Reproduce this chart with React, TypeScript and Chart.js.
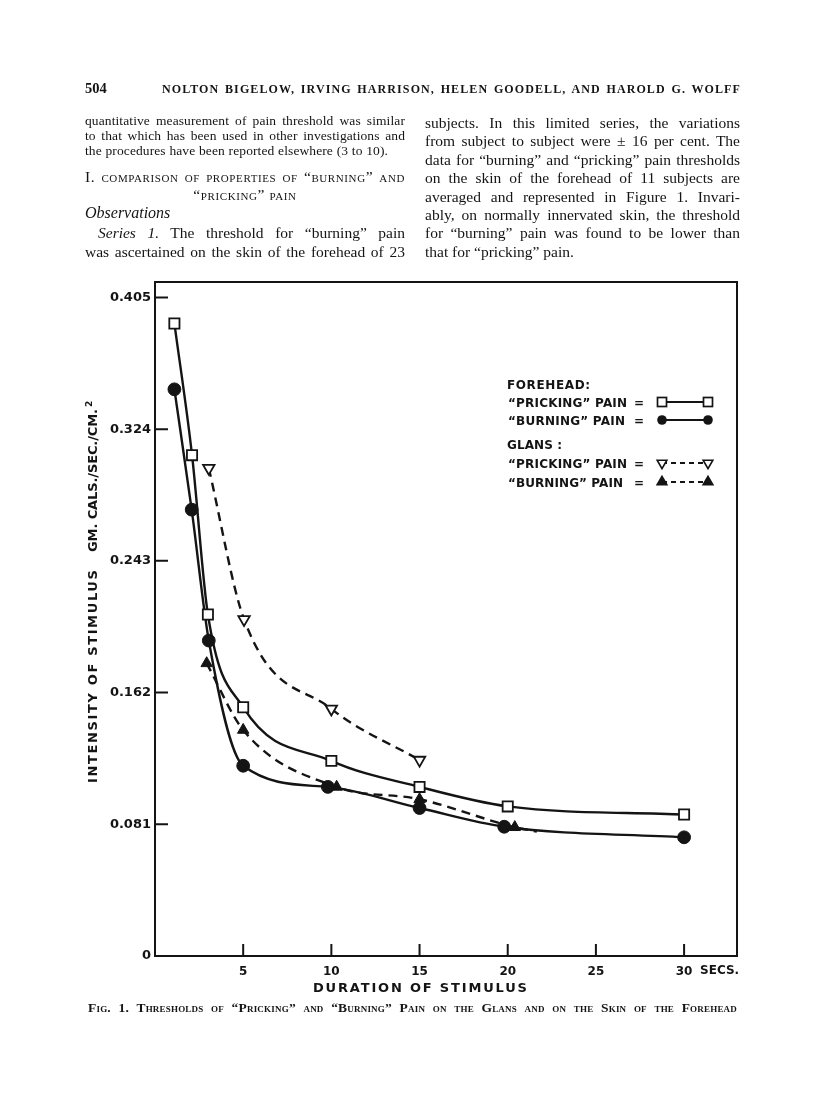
import React, { useEffect, useRef } from "react";
import { Chart, registerables } from "chart.js";

Chart.register(...registerables);

// ---------------- data ----------------
const xTickValues = [5, 10, 15, 20, 25, 30];
const xTickLabels = ["5", "10", "15", "20", "25", "30"];
const xUnitLabel = "SECS.";
const yTickValues = [0, 0.081, 0.162, 0.243, 0.324, 0.405];
const yTickLabels = ["0", "0.081", "0.162", "0.243", "0.324", "0.405"];
const xTitle = "DURATION OF STIMULUS";
const yTitleMain = "INTENSITY OF STIMULUS";
const yTitleUnit = "GM. CALS./SEC./CM.";
const yTitleSup = "2";
const legendGroups = ["FOREHEAD:", "GLANS :"];

// Forehead, "pricking" pain (open squares, solid)
const foreheadPrickingSec = [1.1, 2.1, 3.0, 5, 10, 15, 20, 30];
const foreheadPrickingVal = [0.389, 0.308, 0.21, 0.153, 0.12, 0.104, 0.092, 0.087];
// Forehead, "burning" pain (filled circles, solid)
const foreheadBurningSec = [1.1, 2.08, 3.05, 5, 9.8, 15, 19.8, 30];
const foreheadBurningVal = [0.3485, 0.2745, 0.194, 0.117, 0.104, 0.091, 0.0795, 0.073];
// Glans, "pricking" pain (open down-triangles, dashed)
const glansPrickingSec = [3.05, 5.05, 10, 15];
const glansPrickingVal = [0.3, 0.207, 0.152, 0.1205];
// Glans, "burning" pain (filled up-triangles, dashed); last point = end of the dashed line
const glansBurningSec = [2.93, 5, 10.3, 15, 20.4, 21.65];
const glansBurningVal = [0.18, 0.139, 0.104, 0.0964, 0.0792, 0.0765];
const glansBurningMarked = [true, true, true, true, true, false];

const seriesLabels = [
  "\u201CPRICKING\u201D PAIN",
  "\u201CBURNING\u201D PAIN",
  "\u201CPRICKING\u201D PAIN",
  "\u201CBURNING\u201D PAIN",
];

// ---------------- styling ----------------
const INK = "#141414";
const PAPER = "#ffffff";
const SANS = '"DejaVu Sans", sans-serif';
const SERIF = '"Liberation Serif", "Times New Roman", serif';

const pts = (xs: number[], ys: number[]) => xs.map((x, i) => ({ x, y: ys[i] }));

function fitText(ctx: CanvasRenderingContext2D, text: string, x: number, y: number, w: number) {
  (ctx as any).letterSpacing = "0px";
  const n = Array.from(text).length;
  const nat = ctx.measureText(text).width;
  const ls = n > 1 ? (w - nat) / (n - 1) : 0;
  (ctx as any).letterSpacing = ls.toFixed(2) + "px";
  ctx.fillText(text, x, y);
  (ctx as any).letterSpacing = "0px";
}

function triangle(ctx: CanvasRenderingContext2D, cx: number, cy: number, r: number, down: boolean, filled: boolean) {
  const s = down ? -1 : 1;
  ctx.beginPath();
  ctx.moveTo(cx, cy - s * r);
  ctx.lineTo(cx + r * 0.866, cy + s * r * 0.5);
  ctx.lineTo(cx - r * 0.866, cy + s * r * 0.5);
  ctx.closePath();
  ctx.fillStyle = filled ? INK : PAPER;
  ctx.fill();
  ctx.lineWidth = 1.6;
  ctx.strokeStyle = INK;
  ctx.stroke();
}

const pagePlugin = {
  id: "pageDecor",
  afterDraw(chart: any) {
    const { ctx, chartArea: a, scales } = chart;
    const xs = scales.x;
    const ys = scales.y;
    ctx.save();
    ctx.strokeStyle = INK;
    ctx.fillStyle = INK;
    ctx.lineWidth = 2;
    ctx.setLineDash([]);
    // frame
    ctx.strokeRect(a.left, a.top, a.right - a.left, a.bottom - a.top);
    // inward tick marks
    ctx.beginPath();
    xs.ticks.forEach((t: any) => {
      const px = xs.getPixelForValue(t.value);
      ctx.moveTo(px, a.bottom);
      ctx.lineTo(px, a.bottom - 12);
    });
    ys.ticks.forEach((t: any) => {
      if (t.value === 0) return;
      const py = ys.getPixelForValue(t.value);
      ctx.moveTo(a.left, py);
      ctx.lineTo(a.left + 13, py);
    });
    ctx.stroke();

    // unit after last x tick
    ctx.font = "bold 12px " + SANS;
    ctx.textAlign = "left";
    ctx.textBaseline = "alphabetic";
    ctx.fillText(xUnitLabel, xs.getPixelForValue(30) + 16, 974);

    // x title
    ctx.font = "bold 13px " + SANS;
    fitText(ctx, xTitle, 313, 992, 214);

    // y title (rotated)
    ctx.save();
    ctx.translate(97, 783);
    ctx.rotate(-Math.PI / 2);
    ctx.font = "bold 13px " + SANS;
    fitText(ctx, yTitleMain, 0, 0, 213);
    fitText(ctx, yTitleUnit, 231, 0, 143);
    ctx.font = "bold 9px " + SANS;
    ctx.fillText(yTitleSup, 376, -5);
    ctx.restore();

    // legend
    const ds = chart.data.datasets;
    ctx.font = "bold 12px " + SANS;
    fitText(ctx, legendGroups[0], 507, 389, 83);
    fitText(ctx, legendGroups[1], 507, 449, 55);
    const rows = [
      { cy: 402, base: 407, w: 119 },
      { cy: 420, base: 425, w: 117 },
      { cy: 463, base: 468, w: 119 },
      { cy: 482, base: 486.5, w: 115 },
    ];
    rows.forEach((r, i) => {
      ctx.font = "bold 12px " + SANS;
      ctx.fillStyle = INK;
      fitText(ctx, ds[i].label, 508, r.base, r.w);
      ctx.fillText("=", 634, r.base);
      const x1 = 662;
      const x2 = 708;
      ctx.lineWidth = 2;
      ctx.strokeStyle = INK;
      ctx.setLineDash(i < 2 ? [] : [5, 4]);
      ctx.beginPath();
      ctx.moveTo(x1, r.cy);
      ctx.lineTo(x2, r.cy);
      ctx.stroke();
      ctx.setLineDash([]);
      [x1, x2].forEach((cx) => {
        if (i === 0) {
          ctx.fillStyle = PAPER;
          ctx.fillRect(cx - 4.5, r.cy - 4.5, 9, 9);
          ctx.lineWidth = 1.7;
          ctx.strokeRect(cx - 4.5, r.cy - 4.5, 9, 9);
        } else if (i === 1) {
          ctx.fillStyle = INK;
          ctx.beginPath();
          ctx.arc(cx, r.cy, 4.8, 0, Math.PI * 2);
          ctx.fill();
        } else {
          triangle(ctx, cx, r.cy, 5.6, i === 2, i === 3);
        }
      });
    });
    ctx.restore();
  },
};

// ---------------- page text ----------------
function TL(props: any) {
  const { x, base, w, size, children, align = "left", italic, bold, caps, spacing, family } = props;
  const style: React.CSSProperties = {
    position: "absolute",
    left: x,
    top: base - 0.8375 * size,
    width: w,
    fontFamily: family || SERIF,
    fontSize: size,
    lineHeight: size + "px",
    whiteSpace: "nowrap",
    color: INK,
    textAlign: align as any,
    textAlignLast: align as any,
    fontStyle: italic ? "italic" : "normal",
    fontWeight: bold ? "bold" : "normal",
    fontVariant: caps ? "small-caps" : "normal",
    letterSpacing: spacing ?? "normal",
  };
  return <div style={style}>{children}</div>;
}

const rightColumn = [
  "subjects.  In this limited series, the variations",
  "from subject to subject were \u00B1 16 per cent.  The",
  "data for \u201Cburning\u201D and \u201Cpricking\u201D pain thresholds",
  "on the skin of the forehead of 11 subjects are",
  "averaged and represented in Figure 1.  Invari-",
  "ably, on normally innervated skin, the threshold",
  "for \u201Cburning\u201D pain was found to be lower than",
  "that for \u201Cpricking\u201D pain.",
];

const lineStyle = {
  borderColor: INK,
  borderWidth: 2.4,
  cubicInterpolationMode: "monotone",
};

export default function App() {
  const ref = useRef<HTMLCanvasElement>(null);

  useEffect(() => {
    const canvas = ref.current;
    if (!canvas) return;
    const chart = new Chart(canvas, {
      type: "line",
      data: {
        datasets: [
          {
            ...lineStyle,
            label: seriesLabels[0],
            data: pts(foreheadPrickingSec, foreheadPrickingVal),
            pointStyle: "rect",
            pointRadius: 7.2,
            pointBackgroundColor: PAPER,
            pointBorderColor: INK,
            pointBorderWidth: 1.8,
          },
          {
            ...lineStyle,
            label: seriesLabels[1],
            data: pts(foreheadBurningSec, foreheadBurningVal),
            pointStyle: "circle",
            pointRadius: 6.4,
            pointBackgroundColor: INK,
            pointBorderColor: INK,
            pointBorderWidth: 1,
          },
          {
            ...lineStyle,
            label: seriesLabels[2],
            data: pts(glansPrickingSec, glansPrickingVal),
            borderDash: [9, 6],
            pointStyle: "triangle",
            pointRotation: 180,
            pointRadius: 6.6,
            pointBackgroundColor: PAPER,
            pointBorderColor: INK,
            pointBorderWidth: 1.8,
          },
          {
            ...lineStyle,
            label: seriesLabels[3],
            data: pts(glansBurningSec, glansBurningVal),
            borderDash: [9, 6],
            pointStyle: "triangle",
            pointRadius: glansBurningMarked.map((m) => (m ? 6.6 : 0)),
            pointBackgroundColor: INK,
            pointBorderColor: INK,
            pointBorderWidth: 1,
          },
        ],
      } as any,
      options: {
        responsive: false,
        animation: false,
        events: [],
        layout: { padding: { left: 0, top: 282, right: 79, bottom: 119 } },
        plugins: { legend: { display: false }, tooltip: { enabled: false } },
        scales: {
          x: {
            type: "linear",
            min: 0,
            max: 33,
            afterFit: (s: any) => {
              s.height = 30;
            },
            afterBuildTicks: (s: any) => {
              s.ticks = xTickValues.map((v) => ({ value: v }));
            },
            grid: { display: false, drawTicks: false },
            border: { display: false },
            ticks: {
              color: INK,
              padding: 9,
              maxRotation: 0,
              autoSkip: false,
              font: { family: SANS, size: 12, weight: "bold" },
              callback: (_v: any, i: number) => xTickLabels[i],
            },
          },
          y: {
            type: "linear",
            min: 0,
            max: 0.4145,
            afterFit: (s: any) => {
              s.width = 155;
            },
            afterBuildTicks: (s: any) => {
              s.ticks = yTickValues.map((v) => ({ value: v }));
            },
            grid: { display: false, drawTicks: false },
            border: { display: false },
            ticks: {
              color: INK,
              padding: 4,
              autoSkip: false,
              font: { family: SANS, size: 13, weight: "bold" },
              callback: (_v: any, i: number) => yTickLabels[i],
            },
          },
        },
      } as any,
      plugins: [pagePlugin],
    });
    return () => chart.destroy();
  }, []);

  return (
    <div
      style={{
        position: "absolute",
        left: 0,
        top: 0,
        width: 816,
        height: 1105,
        background: PAPER,
        overflow: "hidden",
      }}
    >
      <canvas
        ref={ref}
        width={816}
        height={1105}
        style={{ position: "absolute", left: 0, top: 0, width: 816, height: 1105 }}
      />
      {/* running head */}
      <TL x={85} base={93} size={14.5} bold>
        504
      </TL>
      <TL x={162} base={93} w={579} size={12} bold align="justify" spacing="1.1px">
        NOLTON BIGELOW, IRVING HARRISON, HELEN GOODELL, AND HAROLD G. WOLFF
      </TL>

      {/* left column */}
      <TL x={85} base={125} w={320} size={13.5} align="justify" spacing="0.1px">
        quantitative measurement of pain threshold was similar
      </TL>
      <TL x={85} base={140} w={320} size={13.5} align="justify" spacing="0.1px">
        to that which has been used in other investigations and
      </TL>
      <TL x={85} base={155} w={303} size={13.5} align="justify" spacing="0.1px">
        the procedures have been reported elsewhere (3 to 10).
      </TL>
      <TL x={85} base={182} w={320} size={15.5} caps align="justify" spacing="0.6px">
        I. comparison of properties of {"\u201C"}burning{"\u201D"} and
      </TL>
      <TL x={85} base={200} w={320} size={15.5} caps align="center" spacing="0.6px">
        {"\u201C"}pricking{"\u201D"} pain
      </TL>
      <TL x={85} base={218} size={16} italic>
        Observations
      </TL>
      <TL x={98} base={238.4} w={307} size={15.5} align="justify">
        <i>Series 1.</i> The threshold for {"\u201C"}burning{"\u201D"} pain
      </TL>
      <TL x={85} base={256.8} w={320} size={15.5} align="justify">
        was ascertained on the skin of the forehead of 23
      </TL>

      {/* right column */}
      {rightColumn.map((t, i) => (
        <TL
          key={i}
          x={425}
          base={128 + 18.4 * i}
          w={315}
          size={15.5}
          align={i === rightColumn.length - 1 ? "left" : "justify"}
        >
          {t}
        </TL>
      ))}

      {/* caption */}
      <TL x={88} base={1012} w={649} size={13.5} bold caps align="justify" spacing="0.2px">
        Fig. 1. Thresholds of {"\u201C"}Pricking{"\u201D"} and {"\u201C"}Burning{"\u201D"} Pain on the Glans and on
        the Skin of the Forehead
      </TL>
    </div>
  );
}
